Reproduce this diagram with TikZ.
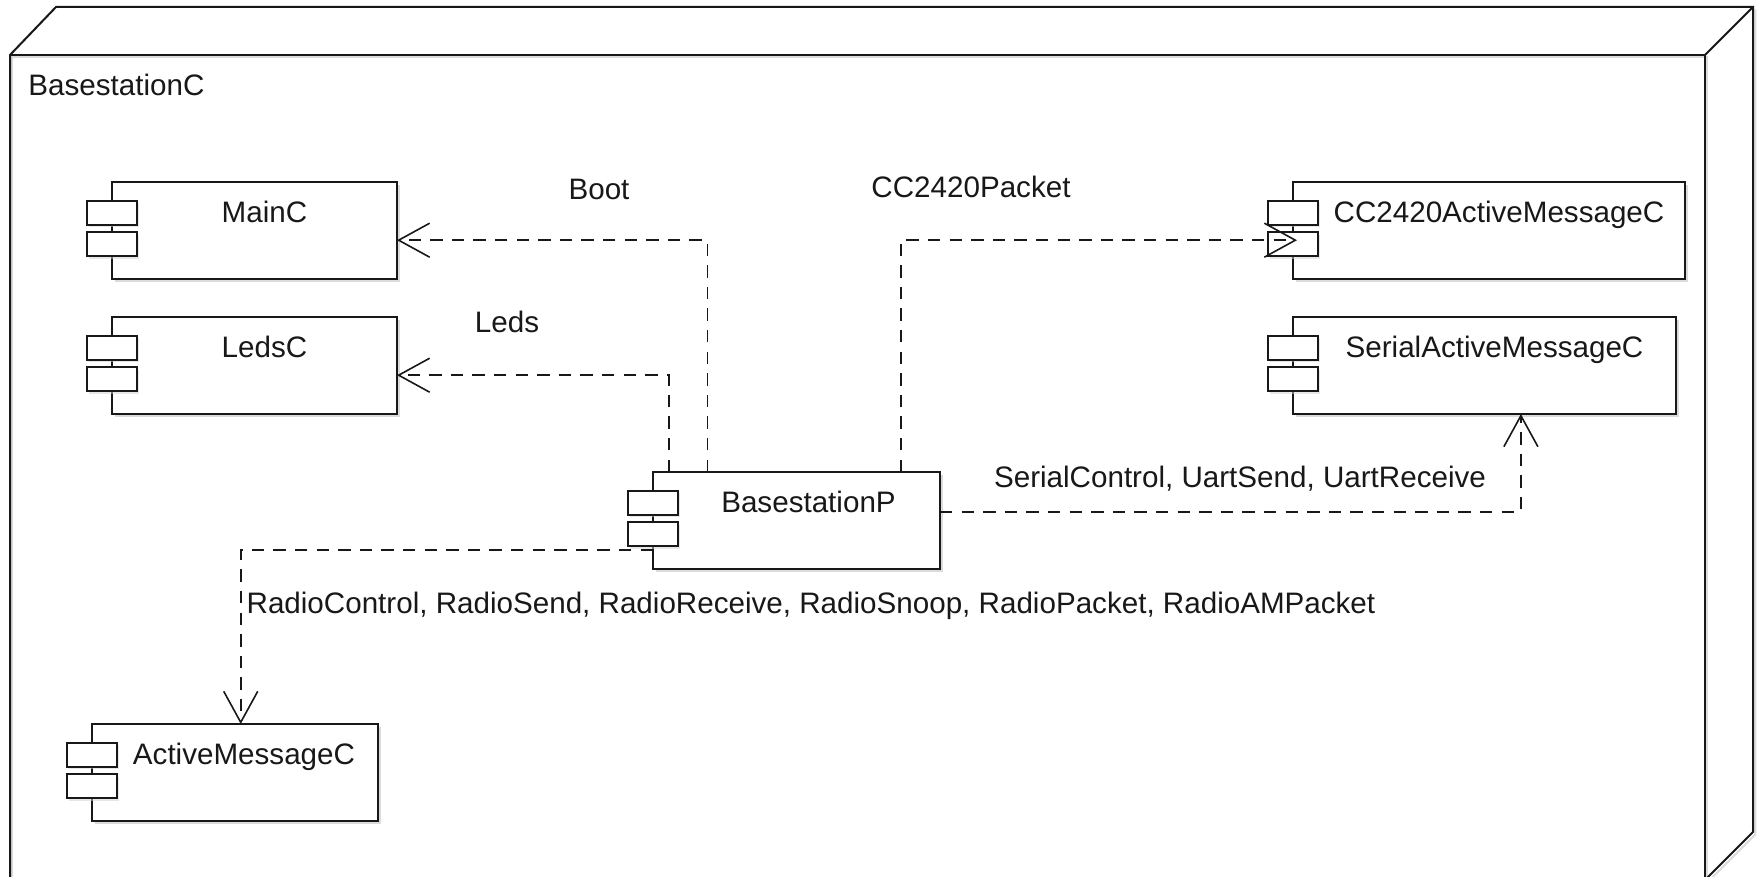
\documentclass[tikz,border=0pt]{standalone}
\usepackage{fontspec}
\setmainfont{Liberation Sans}
\usetikzlibrary{arrows.meta,calc,shadows}
\definecolor{bsInk}{RGB}{24,24,24}
\tikzset{
  compbody/.style={draw=bsInk,fill=white,line width=1pt,minimum height=48.5pt,inner sep=0pt,outer sep=0pt,anchor=north west,
    drop shadow={shadow xshift=1.5pt,shadow yshift=-1.5pt,fill=black!28}},
  compport/.style={draw=bsInk,fill=white,line width=1pt,minimum width=25pt,minimum height=12pt,inner sep=0pt,outer sep=0pt,
    drop shadow={shadow xshift=1.2pt,shadow yshift=-1.2pt,fill=black!18}},
  bstext/.style={font=\fontsize{14.8pt}{17pt}\selectfont,text=bsInk,inner sep=0pt,text height=10.5pt,text depth=0pt},
  frameline/.style={draw=bsInk,line width=1pt},
  frameshade/.style={draw=black!14,line width=1pt,shift={(1.2pt,-1.2pt)}},
  usedep/.style={draw=bsInk,line width=0.9pt,dash pattern=on 6.2pt off 4.6pt,-{Straight Barb[length=15.5pt,width=17pt,line width=0.8pt]}}
}
\newcommand{\compbox}[6]{%
  \node[compbody,minimum width=#4*0.5pt] (#1) at (#2,#3) {};
  \node[compport] (#1portA) at ([yshift=-15.5pt]#1.north west) {};
  \node[compport] (#1portB) at ([yshift=-31.2pt]#1.north west) {};
  \node[bstext] (#1name) at ([xshift=#6pt,yshift=-15pt]#1.north) {#5};
}

\begin{document}
\begin{tikzpicture}[x=0.5pt,y=-0.5pt]
  \useasboundingbox (0,0) rectangle (1761,877);
  \begin{scope}
    \clip (0,0) rectangle (1761,877);
    \fill[white] (0,0) rectangle (1761,877);
    \draw[frameshade] (10,900)--(10,55)--(1705,55)--(1705,900);
    \draw[frameshade] (1753,7)--(1753,832)--(1705,880);
    \draw[frameline] (10,900)--(10,55)--(56,7)--(1753,7)--(1753,832)--(1705,880);
    \draw[frameline] (10,55)--(1705,55)--(1705,900);
    \draw[frameline] (1705,55)--(1753,7);
  \end{scope}
  \node[bstext,anchor=west] (framename) at (28,85) {BasestationC};

  \compbox{mainC}{112}{182}{285}{MainC}{5}
  \compbox{ledsC}{112}{317}{285}{LedsC}{5}
  \compbox{ccActive}{1293}{182}{392}{CC2420ActiveMessageC}{5}
  \compbox{serialActive}{1293}{317}{383}{SerialActiveMessageC}{5}
  \compbox{basestationP}{653}{472}{287}{BasestationP}{6}
  \compbox{activeMsg}{92}{724}{286}{ActiveMessageC}{4.5}

  \draw[usedep] ($(basestationP.north west)!.19!(basestationP.north east)$) |- ($(mainC.north east)!.6!(mainC.south east)$);
  \draw[usedep] ($(basestationP.north west)!.055!(basestationP.north east)$) |- ($(ledsC.north east)!.6!(ledsC.south east)$);
  \draw[usedep] ($(basestationP.north west)!.863!(basestationP.north east)$) |- ([xshift=2pt]$(ccActive.north west)!.6!(ccActive.south west)$);
  \draw[usedep] ($(basestationP.north east)!.41!(basestationP.south east)$) -| ($(serialActive.south west)!.595!(serialActive.south east)$);
  \draw[usedep] ($(basestationP.north west)!.8!(basestationP.south west)$) -| ($(activeMsg.north west)!.52!(activeMsg.north east)$);

  \node[bstext] (bootlabel) at (599,189) {Boot};
  \node[bstext] (ledslabel) at (507,322) {Leds};
  \node[bstext] (packetlabel) at (971,187) {CC2420Packet};
  \node[bstext] (seriallabel) at (1240,477) {SerialControl, UartSend, UartReceive};
  \node[bstext] (radiolabel) at (811,603) {RadioControl, RadioSend, RadioReceive, RadioSnoop, RadioPacket, RadioAMPacket};
\end{tikzpicture}
\end{document}
